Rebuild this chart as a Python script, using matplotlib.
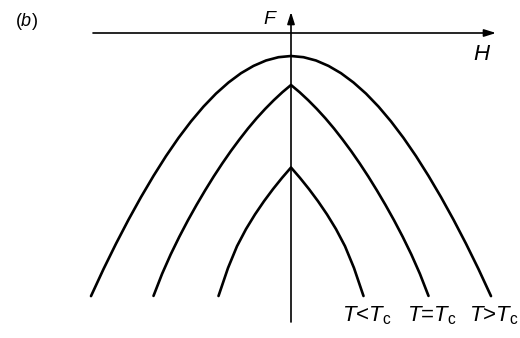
import numpy as np
import matplotlib.pyplot as plt

plt.rcParams['font.family'] = 'Liberation Sans'
plt.rcParams['mathtext.fontset'] = 'custom'
plt.rcParams['mathtext.rm'] = 'Liberation Sans'
plt.rcParams['mathtext.it'] = 'Liberation Sans:italic'

# Free energy F(H), one branch (H >= 0); the other branch is its mirror image
h_above = [0, .125, .25, .375, .5, .625, .75, .875, 1.0, 1.125, 1.25, 1.375, 1.5, 1.625, 1.75, 1.875, 2.0]
f_above = [-.23, -.242, -.275, -.329, -.402, -.495, -.606, -.736, -.884, -1.049, -1.231, -1.429,
           -1.641, -1.867, -2.107, -2.361, -2.631]

h_crit = [0, .086, .172, .258, .344, .430, .515, .601, .687, .773, .859, .945, 1.031, 1.117, 1.203, 1.289, 1.375]
f_crit = [-.52, -.592, -.672, -.759, -.853, -.955, -1.064, -1.180, -1.304, -1.435, -1.574, -1.720,
          -1.874, -2.038, -2.214, -2.408, -2.629]

h_below = [0, .09, .18, .27, .36, .45, .54, .63, .725]
f_below = [-1.345, -1.449, -1.561, -1.682, -1.814, -1.961, -2.132, -2.35, -2.63]

curve_labels = [r'$T$<$T_{\rm c}$', r'$T$=$T_{\rm c}$', r'$T$>$T_{\rm c}$']


def mirrored(h, f):
    h = np.asarray(h)
    f = np.asarray(f)
    return np.concatenate([-h[::-1], h[1:]]), np.concatenate([f[::-1], f[1:]])


fig = plt.figure(figsize=(5.2, 3.38), dpi=100)
ax = fig.add_axes([0, 0, 1, 1])
ax.set_xlim(-2.91, 2.29)
ax.set_ylim(-3.05, 0.33)
ax.axis('off')

# axes with arrow heads
arrow = dict(arrowstyle='-|>,head_length=0.7,head_width=0.22', lw=1.2, color='k',
             shrinkA=0, shrinkB=0)
ax.annotate('', xy=(2.05, 0), xytext=(-1.98, 0), arrowprops=arrow)
ax.annotate('', xy=(0, 0.21), xytext=(0, -2.89), arrowprops=arrow)

for h, f in [(h_below, f_below), (h_crit, f_crit), (h_above, f_above)]:
    x, y = mirrored(h, f)
    ax.plot(x, y, color='k', lw=1.9, solid_capstyle='round', solid_joinstyle='round')

# curve labels sit under the right-hand ends
for h, lab in zip([h_below, h_crit, h_above], curve_labels):
    ax.text(h[-1] + 0.03, -2.88, lab, fontsize=16, ha='center', va='baseline')

ax.text(-0.21, 0.13, r'$F$', fontsize=14, ha='center', va='center')
ax.text(1.91, -0.22, r'$H$', fontsize=16, ha='center', va='center')
ax.text(-2.65, 0.11, r'$(b)$', fontsize=13, ha='center', va='center')

fig.savefig('out.png', dpi=100)
